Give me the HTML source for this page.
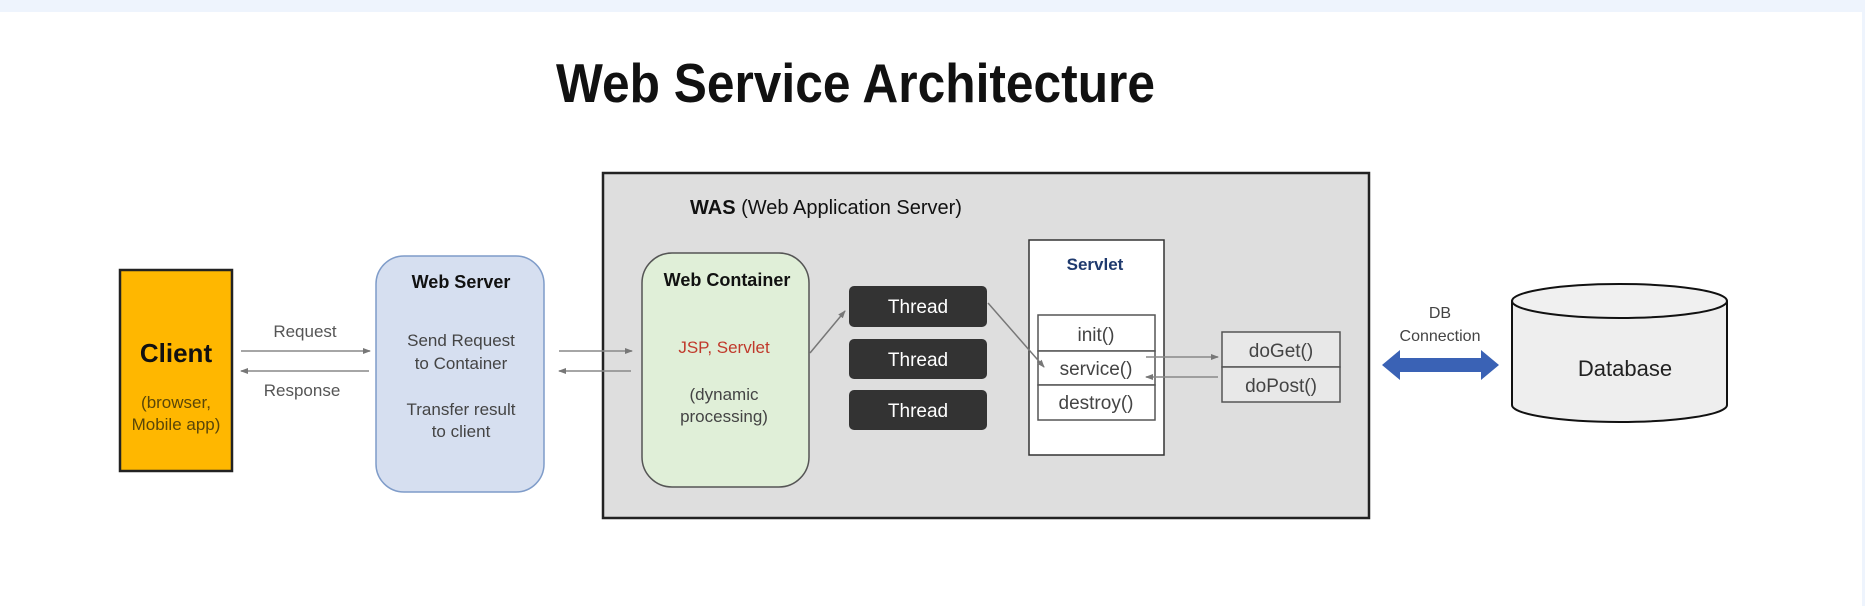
<!DOCTYPE html>
<html><head><meta charset="utf-8"><style>
html,body{margin:0;padding:0;background:#fff;}
svg{display:block;}
text{font-family:"Liberation Sans","DejaVu Sans",sans-serif;}
</style></head><body>
<svg width="1865" height="606" viewBox="0 0 1865 606" xmlns="http://www.w3.org/2000/svg">
<defs>
<marker id="ah" markerWidth="8" markerHeight="8" refX="7" refY="4" orient="auto" markerUnits="userSpaceOnUse">
<path d="M0,1 L8,4 L0,7 Z" fill="#777"/></marker>
</defs>
<rect x="0" y="0" width="1865" height="606" fill="#fff"/>
<rect x="0" y="0" width="1865" height="12" fill="#eef4fd"/>
<rect x="1862" y="0" width="3" height="606" fill="#eef4fd"/>

<text x="556" y="102" font-size="55" font-weight="bold" fill="#111" textLength="599" lengthAdjust="spacingAndGlyphs">Web Service Architecture</text>

<!-- Client -->
<rect x="120" y="270" width="112" height="201" fill="#ffb700" stroke="#222" stroke-width="2.5"/>
<text x="176" y="362" font-size="26" font-weight="bold" text-anchor="middle" fill="#111">Client</text>
<text x="176" y="408" font-size="17" text-anchor="middle" fill="#5a4608">(browser,</text>
<text x="176" y="430" font-size="17" text-anchor="middle" fill="#5a4608">Mobile app)</text>

<text x="305" y="337" font-size="17" text-anchor="middle" fill="#555">Request</text>
<line x1="241" y1="351" x2="370" y2="351" stroke="#888" stroke-width="1.5" marker-end="url(#ah)"/>
<line x1="369" y1="371" x2="241" y2="371" stroke="#888" stroke-width="1.5" marker-end="url(#ah)"/>
<text x="302" y="396" font-size="17" text-anchor="middle" fill="#555">Response</text>

<!-- Web Server -->
<rect x="376" y="256" width="168" height="236" rx="28" fill="#d6dff0" stroke="#7f9cc9" stroke-width="1.5"/>
<text x="461" y="288" font-size="18" font-weight="bold" text-anchor="middle" fill="#111">Web Server</text>
<text x="461" y="346" font-size="17" text-anchor="middle" fill="#444">Send Request</text>
<text x="461" y="369" font-size="17" text-anchor="middle" fill="#444">to Container</text>
<text x="461" y="415" font-size="17" text-anchor="middle" fill="#444">Transfer result</text>
<text x="461" y="437" font-size="17" text-anchor="middle" fill="#444">to client</text>

<!-- WAS -->
<rect x="603" y="173" width="766" height="345" fill="#dedede" stroke="#222" stroke-width="2.5"/>
<text x="690" y="214" font-size="20" fill="#111"><tspan font-weight="bold">WAS</tspan> (Web Application Server)</text>

<line x1="559" y1="351" x2="632" y2="351" stroke="#888" stroke-width="1.5" marker-end="url(#ah)"/>
<line x1="631" y1="371" x2="559" y2="371" stroke="#888" stroke-width="1.5" marker-end="url(#ah)"/>

<rect x="642" y="253" width="167" height="234" rx="30" fill="#e0efd8" stroke="#555" stroke-width="1.5"/>
<text x="727" y="286" font-size="18" font-weight="bold" text-anchor="middle" fill="#111">Web Container</text>
<text x="724" y="353" font-size="17" text-anchor="middle" fill="#c0392b">JSP, Servlet</text>
<text x="724" y="400" font-size="17" text-anchor="middle" fill="#444">(dynamic</text>
<text x="724" y="422" font-size="17" text-anchor="middle" fill="#444">processing)</text>

<rect x="849" y="286" width="138" height="41" rx="5" fill="#333"/>
<rect x="849" y="339" width="138" height="40" rx="5" fill="#333"/>
<rect x="849" y="390" width="138" height="40" rx="5" fill="#333"/>
<text x="918" y="313" font-size="19" text-anchor="middle" fill="#fff">Thread</text>
<text x="918" y="366" font-size="19" text-anchor="middle" fill="#fff">Thread</text>
<text x="918" y="417" font-size="19" text-anchor="middle" fill="#fff">Thread</text>

<line x1="810" y1="353" x2="845" y2="311" stroke="#777" stroke-width="1.5" marker-end="url(#ah)"/>

<!-- Servlet -->
<rect x="1029" y="240" width="135" height="215" fill="#fff" stroke="#333" stroke-width="1.5"/>
<text x="1095" y="270" font-size="17" font-weight="bold" text-anchor="middle" fill="#1f3a6e">Servlet</text>
<rect x="1038" y="315" width="117" height="36" fill="#fff" stroke="#555" stroke-width="1.5"/>
<rect x="1038" y="351" width="117" height="34" fill="#fff" stroke="#555" stroke-width="1.5"/>
<rect x="1038" y="385" width="117" height="35" fill="#fff" stroke="#555" stroke-width="1.5"/>
<text x="1096" y="341" font-size="19" text-anchor="middle" fill="#444">init()</text>
<text x="1096" y="375" font-size="19" text-anchor="middle" fill="#444">service()</text>
<text x="1096" y="409" font-size="19" text-anchor="middle" fill="#444">destroy()</text>

<line x1="988" y1="303" x2="1044" y2="367" stroke="#777" stroke-width="1.5" marker-end="url(#ah)"/>

<rect x="1222" y="332" width="118" height="35" fill="#e8e8e8" stroke="#555" stroke-width="1.5"/>
<rect x="1222" y="367" width="118" height="35" fill="#e8e8e8" stroke="#555" stroke-width="1.5"/>
<text x="1281" y="357" font-size="19" text-anchor="middle" fill="#444">doGet()</text>
<text x="1281" y="392" font-size="19" text-anchor="middle" fill="#444">doPost()</text>
<line x1="1146" y1="357" x2="1218" y2="357" stroke="#888" stroke-width="1.5" marker-end="url(#ah)"/>
<line x1="1218" y1="377" x2="1146" y2="377" stroke="#888" stroke-width="1.5" marker-end="url(#ah)"/>

<!-- DB connection -->
<text x="1440" y="318" font-size="16" text-anchor="middle" fill="#444">DB</text>
<text x="1440" y="341" font-size="16" text-anchor="middle" fill="#444">Connection</text>
<path d="M1382,365 L1400,350 L1400,358 L1481,358 L1481,350 L1499,365 L1481,380 L1481,372 L1400,372 L1400,380 Z" fill="#3a62b5"/>

<!-- Database -->
<path d="M1512,301 L1512,405 A107.5,17 0 0 0 1727,405 L1727,301" fill="#eee" stroke="#111" stroke-width="2"/>
<ellipse cx="1619.5" cy="301" rx="107.5" ry="17" fill="#f0f0f0" stroke="#111" stroke-width="2"/>
<text x="1625" y="376" font-size="22" text-anchor="middle" fill="#222">Database</text>
</svg>
</body></html>
